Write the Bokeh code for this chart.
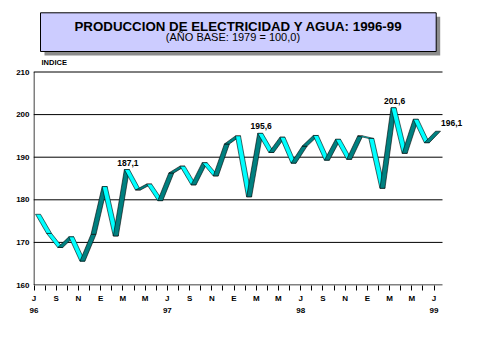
from bokeh.plotting import figure
from bokeh.models import Range1d, FixedTicker, LinearAxis, LabelSet, ColumnDataSource
from bokeh.embed import file_html
from bokeh.resources import INLINE
from bokeh.core.properties import value

# ---------------- data ----------------
# monthly index, July 1996 (0) .. July 1999 (36)
month_idx = list(range(37))
month_letters = ["J", "A", "S", "O", "N", "D", "E", "F", "M", "A", "M", "J"]  # Jul..Jun
values = [176.6, 172.1, 168.8, 171.3, 165.6, 171.9, 183.1, 171.5, 187.1, 182.3,
          183.7, 179.8, 186.3, 187.9, 183.5, 188.7, 185.6, 193.1, 195.0, 180.7,
          195.6, 191.1, 194.7, 188.6, 192.6, 195.1, 189.3, 194.2, 189.5, 195.0,
          194.4, 182.7, 201.6, 190.9, 198.9, 193.4, 196.1]
year_ticks = [0, 12, 24, 36]
year_labels = ["96", "97", "98", "99"]
y_ticks = [160, 170, 180, 190, 200, 210]
lab_idx = [8, 20, 32]
lab_val = [187.1, 195.6, 201.6]
lab_txt = ["187,1", "195,6", "201,6"]
last_txt = ["196,1"]

title = "PRODUCCION DE ELECTRICIDAD Y AGUA: 1996-99"
subtitle = "(AÑO BASE: 1979 =  100,0)"

# ---------------- layout helpers (canvas pixels -> data) ----------------
PX = 400 / 36.0      # px per month
PY = 213 / 50.0      # px per index unit
X0, Y0 = 33.5, 284.5  # pixel of (month 0, index 160)
def dx(px):
    return (px - X0) / PX
def dy(py):
    return 160 + (Y0 - py) / PY

W, H = 471, 351
p = figure(width=W, height=H, output_backend="svg", toolbar_location=None, title=None,
           x_range=Range1d(dx(33), dx(470)), y_range=Range1d(dy(285), dy(0)),
           min_border_left=33, min_border_right=1, min_border_top=0, min_border_bottom=66)
p.outline_line_color = None
p.background_fill_color = "white"
p.border_fill_color = "white"
p.xgrid.grid_line_color = None
p.ygrid.grid_line_color = None

# y axis (labels only)
ya = p.yaxis[0]
ya.ticker = FixedTicker(ticks=y_ticks)
ya.axis_line_color = None
ya.major_tick_out = 0
ya.major_tick_in = 0
ya.minor_tick_out = 0
ya.minor_tick_in = 0
ya.major_label_standoff = 4
ya.major_label_text_baseline = "alphabetic"
ya.major_label_text_font = "Liberation Sans"
ya.major_label_text_font_style = "bold"
ya.major_label_text_font_size = "8px"
ya.major_label_text_color = "black"

# x axis (months)
xa = p.xaxis[0]
xa.ticker = FixedTicker(ticks=month_idx)
xa.major_label_overrides = {i: (month_letters[i % 12] if i % 2 == 0 else "") for i in month_idx}
xa.axis_line_color = None
xa.major_tick_line_color = "black"
xa.major_tick_out = 5
xa.major_tick_in = 0
xa.minor_tick_out = 0
xa.minor_tick_in = 0
xa.major_label_standoff = 3
xa.major_label_text_font = "Liberation Sans"
xa.major_label_text_font_style = "bold"
xa.major_label_text_font_size = "8px"
xa.major_label_text_color = "black"

# x axis (years)
xa2 = LinearAxis(ticker=FixedTicker(ticks=year_ticks),
                 major_label_overrides={t: l for t, l in zip(year_ticks, year_labels)},
                 axis_line_color=None, major_tick_line_color=None,
                 major_tick_out=0, major_tick_in=0, minor_tick_out=0, minor_tick_in=0,
                 major_label_standoff=2,
                 major_label_text_font="Liberation Sans", major_label_text_font_style="bold",
                 major_label_text_font_size="8px", major_label_text_color="black")
p.add_layout(xa2, "below")

# grid lines and axis lines (kept to the reference extent)
x_end = dx(442)
p.segment(x0=[dx(33)] * len(y_ticks), y0=y_ticks, x1=[x_end] * len(y_ticks), y1=y_ticks,
          line_color="black", line_width=1)
p.segment(x0=[0], y0=[y_ticks[0]], x1=[0], y1=[y_ticks[-1]], line_color="black", line_width=1)

# ---------------- title box ----------------
sh_x = 4 / PX
sh_y = 4 / PY
p.quad(left=[dx(40) + sh_x], right=[dx(435.7) + sh_x], top=[dy(12.3) - sh_y], bottom=[dy(51) - sh_y],
       fill_color="#8c8c8c", line_color=None)
p.quad(left=[dx(40)], right=[dx(435.7)], top=[dy(12.3)], bottom=[dy(51)],
       fill_color="#ccccff", line_color="black", line_width=1)
p.text(x=[dx(238)], y=[dy(26)], text=[title], text_font=value("Liberation Sans"),
       text_font_style="bold", text_font_size="13.3px", text_align="center",
       text_baseline="middle", text_color="black")
p.text(x=[dx(234)], y=[dy(36.5)], text=[subtitle], text_font=value("Liberation Sans"),
       text_font_size="11px", text_align="center", text_baseline="middle", text_color="black")
p.text(x=[dx(41)], y=[dy(62)], text=["INDICE"], text_font=value("Liberation Sans"),
       text_font_style="bold", text_font_size="7.5px", text_align="left",
       text_baseline="middle", text_color="black")

# ---------------- 3D ribbon ----------------
off = 1.5 / PX
depth = 5 / PX
xs, ys, cols = [], [], []
for i in range(len(values) - 1):
    a, b = values[i], values[i + 1]
    x1, x2 = month_idx[i] + off, month_idx[i + 1] + off
    xs.append([x1, x2, x2 + depth, x1 + depth])
    ys.append([a, b, b, a])
    cols.append("#008080" if b > a else "#00ffff")
p.patches(xs, ys, fill_color=cols, line_color="black", line_width=0.6)

# ---------------- value labels ----------------
src = ColumnDataSource(dict(x=lab_idx, y=lab_val, t=lab_txt))
p.add_layout(LabelSet(x="x", y="y", text="t", source=src, x_offset=5, y_offset=7,
                      text_align="center", text_baseline="middle",
                      text_font=value("Liberation Sans"), text_font_style="bold",
                      text_font_size="8.5px", text_color="black"))
src2 = ColumnDataSource(dict(x=[month_idx[-1]], y=[values[-1]], t=last_txt))
p.add_layout(LabelSet(x="x", y="y", text="t", source=src2, x_offset=7, y_offset=8,
                      text_align="left", text_baseline="middle",
                      text_font=value("Liberation Sans"), text_font_style="bold",
                      text_font_size="8.5px", text_color="black"))

open("out.html", "w").write(file_html(p, INLINE))
